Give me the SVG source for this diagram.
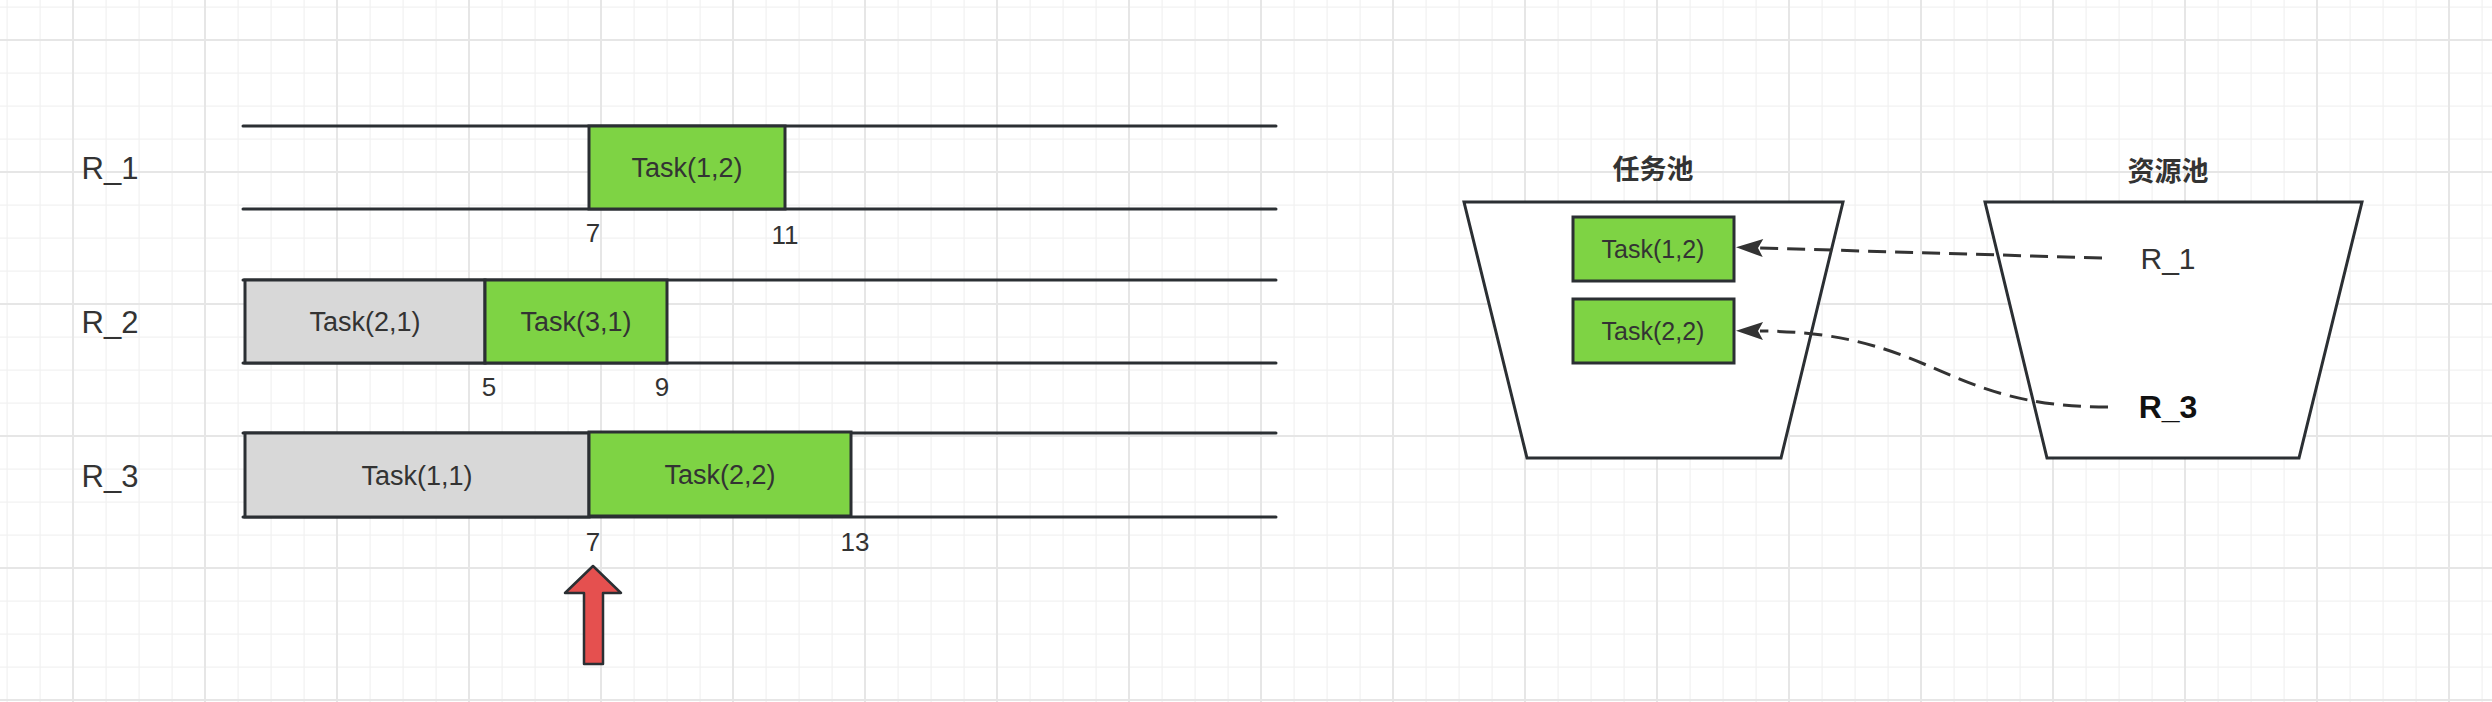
<svg xmlns="http://www.w3.org/2000/svg" width="2492" height="702" viewBox="0 0 2492 702">
<style>
.t{font-family:"Liberation Sans","Noto Sans CJK SC",sans-serif;fill:#333;text-anchor:middle}
.ln{stroke:#2b2f33;stroke-width:3;fill:none;stroke-linecap:round}
.g{fill:#7ed344;stroke:#2b2f33;stroke-width:3}
.gr{fill:#d8d8d8;stroke:#2b2f33;stroke-width:3}
.pool{fill:#fff;stroke:#2b2f33;stroke-width:3;stroke-linejoin:miter}
.dash{stroke:#333;stroke-width:3;fill:none;stroke-dasharray:18 9}
</style>
<defs>
<pattern id="grid" patternUnits="userSpaceOnUse" x="73" y="40" width="132" height="132">
<rect width="132" height="132" fill="#fff"/>
<g fill="#f1f1f1">
<rect x="32.5" y="0" width="1.2" height="132"/><rect x="65.5" y="0" width="1.2" height="132"/><rect x="98.5" y="0" width="1.2" height="132"/>
<rect y="32.5" x="0" height="1.2" width="132"/><rect y="65.5" x="0" height="1.2" width="132"/><rect y="98.5" x="0" height="1.2" width="132"/>
</g>
<g fill="#e6e6e6">
<rect x="0" y="0" width="1" height="132"/><rect x="131" y="0" width="1" height="132"/>
<rect x="0" y="0" width="132" height="1"/><rect x="0" y="131" width="132" height="1"/>
</g>
</pattern>
<marker id="ah" markerUnits="userSpaceOnUse" markerWidth="30" markerHeight="20" refX="3" refY="9" orient="auto" overflow="visible">
<path d="M0,0 L27,9 L0,18 L5,9 z" fill="#333"/>
</marker>
</defs>
<rect width="2492" height="702" fill="url(#grid)"/>

<g id="row1">
<text class="t" x="110" y="179" font-size="31">R_1</text>
<line class="ln" x1="243" y1="126" x2="1276" y2="126"/>
<line class="ln" x1="243" y1="209" x2="1276" y2="209"/>
<rect class="g" x="589" y="126" width="196" height="83"/>
<text class="t" x="687" y="177" font-size="27">Task(1,2)</text>
<text class="t" x="593" y="242" font-size="26">7</text>
<text class="t" x="785" y="244" font-size="26">11</text>
</g>

<g id="row2">
<text class="t" x="110" y="333" font-size="31">R_2</text>
<line class="ln" x1="243" y1="280" x2="1276" y2="280"/>
<line class="ln" x1="243" y1="363" x2="1276" y2="363"/>
<rect class="gr" x="245" y="280" width="240" height="83"/>
<text class="t" x="365" y="331" font-size="27">Task(2,1)</text>
<rect class="g" x="485" y="280" width="182" height="83"/>
<text class="t" x="576" y="331" font-size="27">Task(3,1)</text>
<text class="t" x="489" y="396" font-size="26">5</text>
<text class="t" x="662" y="396" font-size="26">9</text>
</g>

<g id="row3">
<text class="t" x="110" y="487" font-size="31">R_3</text>
<line class="ln" x1="243" y1="433" x2="1276" y2="433"/>
<line class="ln" x1="243" y1="517" x2="1276" y2="517"/>
<rect class="gr" x="245" y="433" width="344" height="84"/>
<text class="t" x="417" y="485" font-size="27">Task(1,1)</text>
<rect class="g" x="589" y="432" width="262" height="84"/>
<text class="t" x="720" y="484" font-size="27">Task(2,2)</text>
<text class="t" x="593" y="551" font-size="26">7</text>
<text class="t" x="855" y="551" font-size="26">13</text>
</g>

<g id="marker-arrow">
<polygon points="593,566 621,593 603,593 603,664 584,664 584,593 565,593" fill="#e5504f" stroke="#2b2f33" stroke-width="2.5" stroke-linejoin="round"/>
</g>

<g id="task-pool">
<text class="t" x="1653" y="179" font-size="27" font-weight="bold">任务池</text>
<polygon class="pool" points="1464,202 1843,202 1781,458 1527,458"/>
</g>
<g id="task-1-2">
<rect class="g" x="1573" y="217" width="161" height="64"/>
<text class="t" x="1653" y="258" font-size="25">Task(1,2)</text>
</g>
<g id="task-2-2">
<rect class="g" x="1573" y="299" width="161" height="64"/>
<text class="t" x="1653" y="340" font-size="25">Task(2,2)</text>
</g>

<g id="resource-pool">
<text class="t" x="2168" y="181" font-size="27" font-weight="bold">资源池</text>
<polygon class="pool" points="1985,202 2362,202 2299,458 2047,458"/>
</g>
<g id="res-r1">
<text class="t" x="2168" y="269" font-size="30">R_1</text>
</g>
<g id="res-r3">
<text class="t" x="2168" y="418" font-size="32" font-weight="bold" style="fill:#111">R_3</text>
</g>

<g id="connectors">
<path class="dash" d="M2102,258 L1760,248" marker-end="url(#ah)"/>
<path class="dash" d="M2108,407 C1940,407 1935,332 1760,331" marker-end="url(#ah)"/>
</g>
</svg>
